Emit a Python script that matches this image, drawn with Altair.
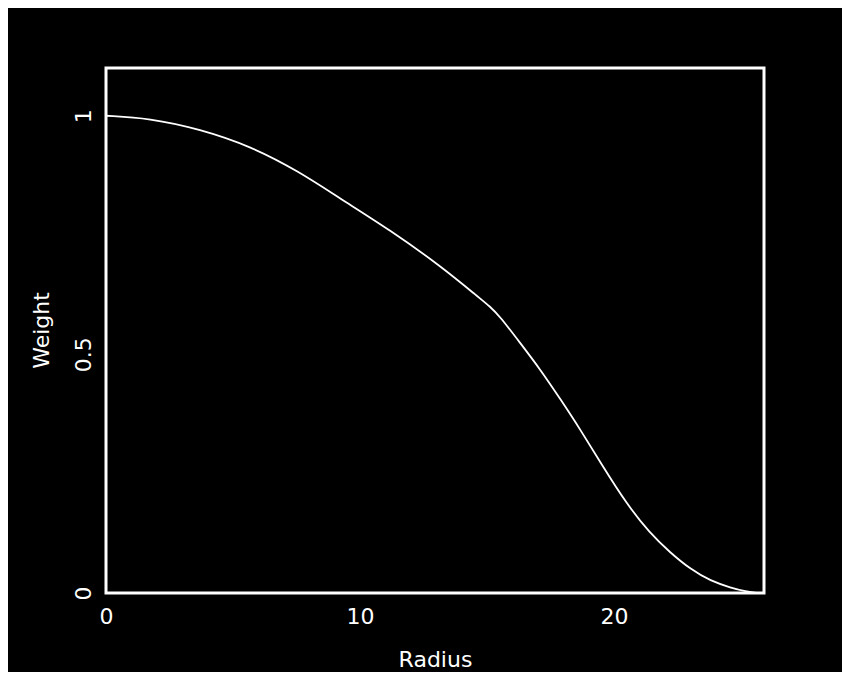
import altair as alt
import pandas as pd

radius = [0, 1.7, 3.7, 5.7, 7.6, 9.2, 11.2, 13.2, 14.7, 15.1, 15.5, 16.3, 17.1,
          17.9, 18.7, 19.5, 20.5, 21.4, 22.2, 23.0, 23.8, 24.6, 25.2, 25.6]
weight = [1.0, 0.995, 0.972, 0.936, 0.883, 0.827, 0.760, 0.684, 0.618, 0.601,
          0.580, 0.524, 0.468, 0.405, 0.340, 0.270, 0.186, 0.126, 0.085,
          0.050, 0.025, 0.011, 0.003, 0.0]
x_ticks = [0, 10, 20]
y_ticks = [0, 0.5, 1]

df = pd.DataFrame({"Radius": radius, "Weight": weight})

FONT = "DejaVu Sans"

chart = alt.Chart(df).mark_line(
    color="white", strokeWidth=1.8, interpolate="basis", clip=True
).encode(
    x=alt.X("Radius:Q",
            scale=alt.Scale(domain=[0, 25.9], nice=False, zero=False),
            axis=alt.Axis(values=x_ticks, title="Radius", format="d",
                          domain=False, ticks=False, tickSize=0, grid=False,
                          labelPadding=13, labelFontSize=22, labelFont=FONT,
                          labelColor="white", labelFlush=False,
                          titleFont=FONT, titleFontSize=22, titleColor="white",
                          titleFontWeight="normal", titleBaseline="alphabetic",
                          titleY=73)),
    y=alt.Y("Weight:Q",
            scale=alt.Scale(domain=[0, 1.1], nice=False, zero=False),
            axis=alt.Axis(values=y_ticks, title="Weight", format=".1~f",
                          domain=False, ticks=False, tickSize=0, grid=False,
                          labelAngle=270, labelAlign="center",
                          labelBaseline="alphabetic", labelPadding=16,
                          labelFontSize=22, labelFont=FONT, labelColor="white",
                          labelFlush=False,
                          titleFont=FONT, titleFontSize=22, titleColor="white",
                          titleFontWeight="normal", titleAngle=270,
                          titleBaseline="alphabetic", titleAlign="center",
                          titleX=-58, titleY=262)),
).properties(
    width=658, height=525,
    autosize=alt.AutoSizeParams(type="none"),
    padding={"left": 98, "top": 60, "right": 78, "bottom": 79},
    background="black",
).configure_view(
    stroke="white", strokeWidth=3, fill="black"
)

chart.save("out.html", embed_options={"renderer": "svg", "actions": False})
